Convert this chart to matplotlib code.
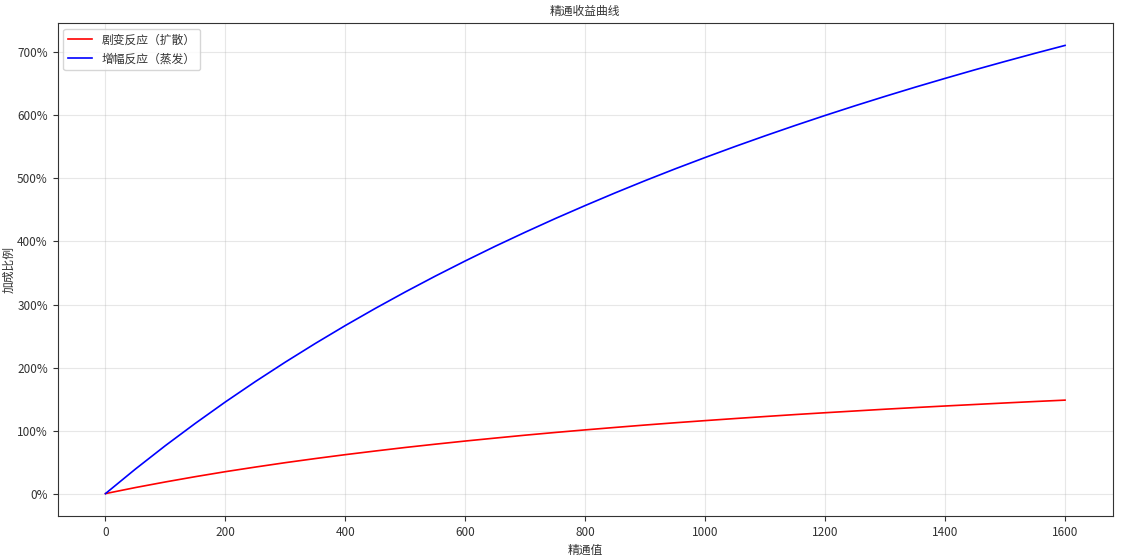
import numpy as np
import matplotlib
matplotlib.use("Agg")
import matplotlib.pyplot as plt
from matplotlib.ticker import FuncFormatter

plt.rcParams['font.family'] = ['Noto Sans CJK SC', 'DejaVu Sans']
plt.rcParams['axes.unicode_minus'] = False

# 精通值 and readings (percent)
mastery = [0, 50, 100, 150, 200, 250, 300, 350, 400, 450, 500, 550, 600, 650, 700, 750, 800,
           850, 900, 950, 1000, 1050, 1100, 1150, 1200, 1250, 1300, 1350, 1400, 1450, 1500,
           1550, 1600]
transform_pct = [0, 9.6, 18.5, 26.9, 34.8, 42.1, 49.1, 55.6, 61.8, 67.6, 73.2, 78.4, 83.4,
                 88.1, 92.7, 97.0, 101.1, 105.0, 108.8, 112.4, 115.8, 119.1, 122.3, 125.4,
                 128.3, 131.1, 133.9, 136.5, 139.0, 141.4, 143.8, 146.1, 148.3]
amplify_pct = [0, 39.0, 76.2, 111.6, 145.5, 177.8, 208.7, 238.3, 266.7, 293.9, 320.0, 345.1,
               369.2, 392.5, 414.8, 436.4, 457.1, 477.2, 496.6, 515.3, 533.3, 550.8, 567.7,
               584.1, 600.0, 615.4, 630.3, 644.8, 658.8, 672.5, 685.7, 698.6, 711.1]

txt = "#333333"

fig = plt.figure(figsize=(11.21, 5.57), dpi=100)
ax = fig.add_axes([0.0513, 0.0736, 0.9416, 0.8851])

ax.plot(mastery, np.array(transform_pct) / 100, color="red", lw=1.2, label="剧变反应（扩散）")
ax.plot(mastery, np.array(amplify_pct) / 100, color="blue", lw=1.2, label="增幅反应（蒸发）")

ax.set_title("精通收益曲线", fontsize=8.5, color=txt)
ax.set_xlabel("精通值", fontsize=8.5, color=txt)
ax.set_ylabel("加成比例", fontsize=8.5, color=txt, labelpad=1)
ax.yaxis.set_major_formatter(FuncFormatter(lambda v, p: f"{v*100:.0f}%"))
ax.tick_params(labelsize=8.5, labelcolor=txt, color=txt)
for s in ax.spines.values():
    s.set_color(txt)
ax.grid(True, alpha=0.3)
leg = ax.legend(loc="upper left", fontsize=8.5)
for t in leg.get_texts():
    t.set_color(txt)

fig.savefig("out.png", dpi=100)
